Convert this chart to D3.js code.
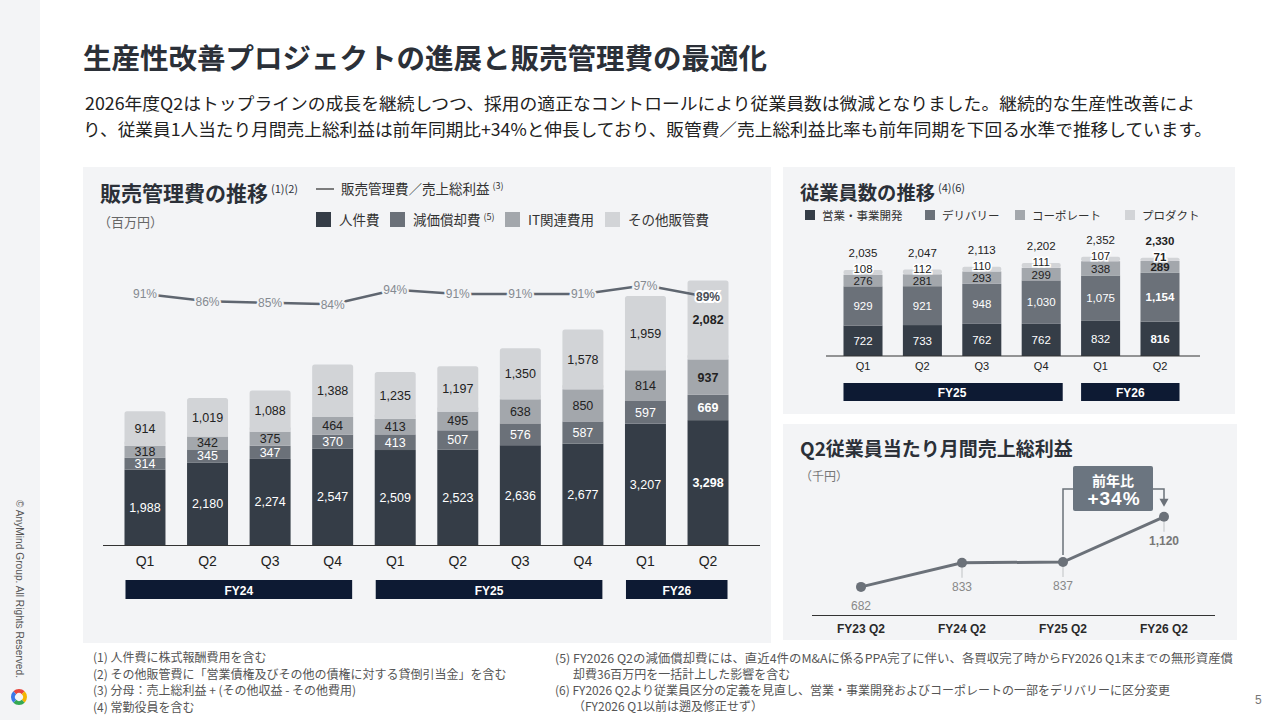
<!DOCTYPE html>
<html><head><meta charset="utf-8">
<script src="https://cdn.jsdelivr.net/npm/d3@7"></script>
<style>
html,body{margin:0;padding:0;background:#fff;}
svg{display:block;}
text{font-family:"Noto Sans CJK JP","Noto Sans",sans-serif;}
.num{font-family:"Liberation Sans",Arial,sans-serif;}
</style></head>
<body>
<svg id="c" width="1280" height="720"></svg>
<script>
// ---------- DATA ----------
const sgaQuarters = ['Q1','Q2','Q3','Q4','Q1','Q2','Q3','Q4','Q1','Q2'];
const personnel   = [1988,2180,2274,2547,2509,2523,2636,2677,3207,3298];
const depreciation= [314,345,347,370,413,507,576,587,597,669];
const itCosts     = [318,342,375,464,413,495,638,850,814,937];
const otherSga    = [914,1019,1088,1388,1235,1197,1350,1578,1959,2082];
const sgaRatio    = [91,86,85,84,94,91,91,91,97,89];
const sgaFiscalYears = [{fy:'FY24',from:0,to:3},{fy:'FY25',from:4,to:7},{fy:'FY26',from:8,to:9}];
const sgaLegend = ['人件費','減価償却費','IT関連費用','その他販管費'];

const empQuarters = ['Q1','Q2','Q3','Q4','Q1','Q2'];
const empSales     = [722,733,762,762,832,816];
const empDelivery  = [929,921,948,1030,1075,1154];
const empCorporate = [276,281,293,299,338,289];
const empProduct   = [108,112,110,111,107,71];
const empTotals    = [2035,2047,2113,2202,2352,2330];
const empFiscalYears = [{fy:'FY25',from:0,to:3},{fy:'FY26',from:4,to:5}];
const empLegend = ['営業・事業開発','デリバリー','コーポレート','プロダクト'];

const gpLabels = ['FY23 Q2','FY24 Q2','FY25 Q2','FY26 Q2'];
const gpValues = [682,833,837,1120];

// ---------- STYLE ----------
const C = ['#353d47','#6b7179','#a3a7ac','#d2d4d7'];
const panelBg = '#f3f4f6';
const navy = '#0d1a33';
const svg = d3.select('#c');

// background + sidebar
svg.append('rect').attr('x',0).attr('y',0).attr('width',1280).attr('height',720).attr('fill','#fff');
svg.append('rect').attr('x',0).attr('y',0).attr('width',40).attr('height',720).attr('fill',panelBg);
svg.append('text').attr('transform','translate(16,500) rotate(90)')
  .attr('class','num').attr('font-size',10.5).attr('fill','#555')
  .attr('textLength',178).attr('lengthAdjust','spacingAndGlyphs')
  .text('© AnyMind Group. All Rights Reserved.');
// logo
const logoArc = d3.arc().innerRadius(4).outerRadius(8);
const logoCols = ['#e8453c','#f5b400','#34a853','#3b78e7'];
logoCols.forEach((col,i)=>{
  svg.append('path').attr('transform','translate(19,697)')
    .attr('d',logoArc({startAngle:-Math.PI/4+i*Math.PI/2,endAngle:Math.PI/4+i*Math.PI/2}))
    .attr('fill',col);
});

// header
svg.append('text').attr('x',83).attr('y',69).attr('font-size',28.5).attr('font-weight',700)
  .attr('fill','#2b3038').text('生産性改善プロジェクトの進展と販売管理費の最適化');
svg.append('text').attr('x',85).attr('y',110).attr('font-size',17).attr('fill','#222')
  .attr('textLength',1110).attr('lengthAdjust','spacingAndGlyphs')
  .text('2026年度Q2はトップラインの成長を継続しつつ、採用の適正なコントロールにより従業員数は微減となりました。継続的な生産性改善によ');
svg.append('text').attr('x',83).attr('y',136).attr('font-size',17).attr('fill','#222')
  .attr('textLength',1129).attr('lengthAdjust','spacingAndGlyphs')
  .text('り、従業員1人当たり月間売上総利益は前年同期比+34%と伸長しており、販管費／売上総利益比率も前年同期を下回る水準で推移しています。');

// panels
svg.append('rect').attr('x',83).attr('y',167).attr('width',688).attr('height',476).attr('fill',panelBg);
svg.append('rect').attr('x',783).attr('y',167).attr('width',452).attr('height',247).attr('fill',panelBg);
svg.append('rect').attr('x',783).attr('y',424).attr('width',454).attr('height',216).attr('fill',panelBg);

// ---------- LEFT CHART ----------
const L = svg.append('g');
const t1 = L.append('text').attr('x',100).attr('y',201).attr('fill','#2b3038');
t1.append('tspan').attr('font-size',21).attr('font-weight',700).text('販売管理費の推移');
t1.append('tspan').attr('font-size',11).attr('dx',3).attr('dy',-8).text('(1)(2)');
L.append('line').attr('x1',316).attr('x2',334).attr('y1',189).attr('y2',189).attr('stroke','#555').attr('stroke-width',1.5);
const t2 = L.append('text').attr('x',341).attr('y',194).attr('fill','#333');
t2.append('tspan').attr('font-size',13.5).text('販売管理費／売上総利益');
t2.append('tspan').attr('font-size',9).attr('dx',3).attr('dy',-5).text('(3)');
L.append('text').attr('x',98).attr('y',227).attr('font-size',13).attr('fill','#666').text('（百万円）');
const legX = [316,390,505,605];
sgaLegend.forEach((name,i)=>{
  L.append('rect').attr('x',legX[i]).attr('y',212).attr('width',15).attr('height',15).attr('fill',C[i]);
  const t = L.append('text').attr('x',legX[i]+23).attr('y',225).attr('fill','#333');
  t.append('tspan').attr('font-size',13.5).text(name);
  if(i===1) t.append('tspan').attr('font-size',9).attr('dx',3).attr('dy',-5).text('(5)');
});

const sgaRows = sgaQuarters.map((q,i)=>({i, q, personnel:personnel[i], depreciation:depreciation[i], itCosts:itCosts[i], otherSga:otherSga[i]}));
const sgaKeys = ['personnel','depreciation','itCosts','otherSga'];
const xL = d3.scaleBand().domain(d3.range(sgaQuarters.length)).range([113.7,739.3]).paddingInner(0.345).paddingOuter(0.1725);
const yL = d3.scaleLinear().domain([0,7000]).range([545,280]);
const yR = d3.scaleLinear().domain([80,100]).range([310,281]);
const stackL = d3.stack().keys(sgaKeys)(sgaRows);
stackL.forEach((layer,k)=>{
  const g = L.append('g');
  g.selectAll('rect').data(layer).enter().append('rect')
    .attr('x',d=>xL(d.data.i)).attr('width',xL.bandwidth())
    .attr('y',d=>yL(d[1])).attr('height',d=>yL(d[0])-yL(d[1]))
    .attr('rx',k===3?2.5:0).attr('fill',C[k]);
  if(k===3){
    g.selectAll('rect.sq').data(layer).enter().append('rect').attr('class','sq')
      .attr('x',d=>xL(d.data.i)).attr('width',xL.bandwidth())
      .attr('y',d=>yL(d[0])-4).attr('height',4).attr('fill',C[k]);
  }
  g.selectAll('text').data(layer).enter().append('text').attr('class','num')
    .attr('x',d=>xL(d.data.i)+xL.bandwidth()/2)
    .attr('y',d=>(yL(d[0])+yL(d[1]))/2).attr('dy','0.36em')
    .attr('text-anchor','middle').attr('font-size',12.5)
    .attr('font-weight',d=>d.data.i===9?700:400)
    .attr('fill',k<2?'#fff':'#222')
    .text(d=>d3.format(',')(d.data[sgaKeys[k]]));
});
L.append('line').attr('x1',103).attr('x2',760).attr('y1',545.5).attr('y2',545.5).attr('stroke','#333').attr('stroke-width',1.2);
L.selectAll('text.q').data(sgaQuarters).enter().append('text').attr('class','num')
  .attr('x',(d,i)=>xL(i)+xL.bandwidth()/2).attr('y',566).attr('text-anchor','middle')
  .attr('font-size',14).attr('fill','#222').text(d=>d);
sgaFiscalYears.forEach(f=>{
  const x0 = xL(f.from), x1 = xL(f.to)+xL.bandwidth();
  L.append('rect').attr('x',x0+1).attr('y',580).attr('width',x1-x0-2).attr('height',19).attr('fill',navy);
  L.append('text').attr('class','num').attr('x',(x0+x1)/2).attr('y',594.5).attr('text-anchor','middle')
    .attr('font-size',12).attr('font-weight',700).attr('fill','#fff').text(f.fy);
});
// ratio line
const lineR = d3.line().x((d,i)=>xL(i)+xL.bandwidth()/2).y(d=>yR(d));
L.append('path').datum(sgaRatio).attr('d',lineR).attr('fill','none').attr('stroke','#5f6670').attr('stroke-width',2.5);
L.selectAll('text.r').data(sgaRatio).enter().append('text').attr('class','num')
  .attr('x',(d,i)=>xL(i)+xL.bandwidth()/2).attr('y',d=>yR(d)).attr('dy','0.36em')
  .attr('text-anchor','middle').attr('font-size',12)
  .attr('fill',(d,i)=>i===9?'#4a4f56':'#858a91')
  .attr('font-weight',(d,i)=>i===9?700:400)
  .attr('stroke',(d,i)=>i===9?'#fff':panelBg).attr('stroke-width',4).attr('paint-order','stroke')
  .text(d=>d+'%');

// ---------- RIGHT TOP CHART ----------
const R = svg.append('g');
const t3 = R.append('text').attr('x',800).attr('y',200).attr('fill','#2b3038');
t3.append('tspan').attr('font-size',19.3).attr('font-weight',700).text('従業員数の推移');
t3.append('tspan').attr('font-size',11).attr('dx',3).attr('dy',-8).text('(4)(6)');
const eLegX = [805,925,1015,1125];
empLegend.forEach((name,i)=>{
  R.append('rect').attr('x',eLegX[i]).attr('y',210).attr('width',10).attr('height',10).attr('fill',C[i]);
  R.append('text').attr('x',eLegX[i]+17).attr('y',219.5).attr('font-size',11.5).attr('fill','#333').text(name);
});
const empRows = empQuarters.map((q,i)=>({i,q,sales:empSales[i],delivery:empDelivery[i],corporate:empCorporate[i],product:empProduct[i],total:empTotals[i]}));
const empKeys = ['sales','delivery','corporate','product'];
const xE = d3.scaleBand().domain(d3.range(empQuarters.length)).range([833.3,1189.7]).paddingInner(0.343).paddingOuter(0.1715);
const yE = d3.scaleLinear().domain([0,2500]).range([356,250.5]);
const stackE = d3.stack().keys(empKeys)(empRows);
stackE.forEach((layer,k)=>{
  const g = R.append('g');
  g.selectAll('rect').data(layer).enter().append('rect')
    .attr('x',d=>xE(d.data.i)).attr('width',xE.bandwidth())
    .attr('y',d=>yE(d[1])).attr('height',d=>yE(d[0])-yE(d[1]))
    .attr('rx',k===3?2:0).attr('fill',C[k]);
});
stackE.forEach((layer,k)=>{
  R.append('g').selectAll('text').data(layer).enter().append('text').attr('class','num')
    .attr('x',d=>xE(d.data.i)+xE.bandwidth()/2)
    .attr('y',d=>k===3?yE(d[1])-1:(yE(d[0])+yE(d[1]))/2 + (k===2?0.5:0)).attr('dy','0.36em')
    .attr('text-anchor','middle').attr('font-size',11.5)
    .attr('font-weight',d=>d.data.i===5?700:400)
    .attr('fill',k<2?'#fff':'#222')
    .attr('stroke',k===3?'#fff':'none').attr('stroke-width',k===3?3:0).attr('paint-order','stroke')
    .text(d=>d3.format(',')(d.data[empKeys[k]]));
});
R.selectAll('text.tot').data(empRows).enter().append('text').attr('class','num')
  .attr('x',d=>xE(d.i)+xE.bandwidth()/2).attr('y',d=>yE(d.total)-17).attr('dy','0.36em')
  .attr('text-anchor','middle').attr('font-size',11.5).attr('fill','#222')
  .attr('font-weight',d=>d.i===5?700:400).text(d=>d3.format(',')(d.total));
R.append('line').attr('x1',826).attr('x2',1200).attr('y1',356).attr('y2',356).attr('stroke','#333').attr('stroke-width',1.2);
R.selectAll('text.q').data(empQuarters).enter().append('text').attr('class','num')
  .attr('x',(d,i)=>xE(i)+xE.bandwidth()/2).attr('y',370).attr('text-anchor','middle')
  .attr('font-size',11).attr('fill','#222').text(d=>d);
empFiscalYears.forEach(f=>{
  const x0 = xE(f.from), x1 = xE(f.to)+xE.bandwidth();
  R.append('rect').attr('x',x0).attr('y',383).attr('width',(f.fy==='FY25'?x1+2:x1)-x0).attr('height',18).attr('fill',navy);
  R.append('text').attr('class','num').attr('x',(x0+x1)/2).attr('y',396.5).attr('text-anchor','middle')
    .attr('font-size',12).attr('font-weight',700).attr('fill','#fff').text(f.fy);
});

// ---------- RIGHT BOTTOM CHART ----------
const B = svg.append('g');
B.append('text').attr('x',800).attr('y',456).attr('font-size',19).attr('font-weight',700).attr('fill','#2b3038').text('Q2従業員当たり月間売上総利益');
B.append('text').attr('x',800).attr('y',481).attr('font-size',12).attr('fill','#777').text('（千円）');
const xG = d3.scalePoint().domain(gpLabels).range([861,1164]);
const yG = d3.scaleLinear().domain([600,1200]).range([600,504]);
B.append('line').attr('x1',812).attr('x2',1215).attr('y1',615.5).attr('y2',615.5).attr('stroke','#333').attr('stroke-width',1.2);
B.selectAll('text.ax').data(gpLabels).enter().append('text').attr('class','num')
  .attr('x',d=>xG(d)).attr('y',633).attr('text-anchor','middle').attr('font-size',12)
  .attr('font-weight',700).attr('fill','#2a2a2a').text(d=>d);
gpValues.forEach((v,i)=>{
  const x = xG(gpLabels[i]), y = yG(v);
  if(i>0) B.append('line').attr('x1',x).attr('x2',x).attr('y1',y+5).attr('y2',y+15).attr('stroke','#c8cacd').attr('stroke-width',1.2);
  B.append('text').attr('class','num').attr('x',x).attr('y',y+(i===0?19:24)).attr('dy','0.36em')
    .attr('text-anchor','middle').attr('font-size',12).attr('fill',i===3?'#777':'#888')
    .attr('font-weight',i===3?700:400).text(d3.format(',')(v));
});
B.append('path').datum(gpValues).attr('d',d3.line().x((d,i)=>xG(gpLabels[i])).y(d=>yG(d)))
  .attr('fill','none').attr('stroke','#6b7179').attr('stroke-width',3);
B.selectAll('circle').data(gpValues).enter().append('circle')
  .attr('cx',(d,i)=>xG(gpLabels[i])).attr('cy',d=>yG(d)).attr('r',5).attr('fill','#6b7179');
const xa = xG(gpLabels[2]), xb = xG(gpLabels[3]);
B.append('path').attr('d',`M${xa},${yG(gpValues[2])-7} V489 H1075 M1150,489 H${xb} V${yG(gpValues[3])-17}`)
  .attr('fill','none').attr('stroke','#6b7179').attr('stroke-width',1.5);
B.append('path').attr('d',`M${xb-4.5},${yG(gpValues[3])-18} L${xb+4.5},${yG(gpValues[3])-18} L${xb},${yG(gpValues[3])-10} Z`).attr('fill','#6b7179');
B.append('rect').attr('x',1073).attr('y',466).attr('width',80).attr('height',45).attr('rx',2).attr('fill','#6b7580');
B.append('text').attr('x',1113).attr('y',486).attr('text-anchor','middle').attr('font-size',14).attr('font-weight',700).attr('fill','#fff').text('前年比');
B.append('text').attr('class','num').attr('x',1114).attr('y',505).attr('text-anchor','middle').attr('font-size',19).attr('letter-spacing',1).attr('font-weight',700).attr('fill','#fff').text('+34%');

// ---------- FOOTNOTES ----------
const fn = svg.append('g').attr('font-size',12).attr('fill','#555');
[['(1) 人件費に株式報酬費用を含む',93,662],
 ['(2) その他販管費に「営業債権及びその他の債権に対する貸倒引当金」を含む',93,679],
 ['(3) 分母：売上総利益 + (その他収益 - その他費用)',93,695],
 ['(4) 常勤役員を含む',93,712],
 ['(5) FY2026 Q2の減価償却費には、直近4件のM&Aに係るPPA完了に伴い、各買収完了時からFY2026 Q1末までの無形資産償',555,663],
 ['却費36百万円を一括計上した影響を含む',573,679],
 ['(6) FY2026 Q2より従業員区分の定義を見直し、営業・事業開発およびコーポレートの一部をデリバリーに区分変更',555,695],
 ['（FY2026 Q1以前は遡及修正せず）',573,711]
].forEach(([t,x,y])=>{
  const el = fn.append('text').attr('x',x).attr('y',y).text(t);
  if(t.startsWith('(5)')) el.attr('textLength',678).attr('lengthAdjust','spacingAndGlyphs');
});
svg.append('text').attr('class','num').attr('x',1255).attr('y',704).attr('font-size',12).attr('fill','#777').text('5');
</script>
</body></html>
